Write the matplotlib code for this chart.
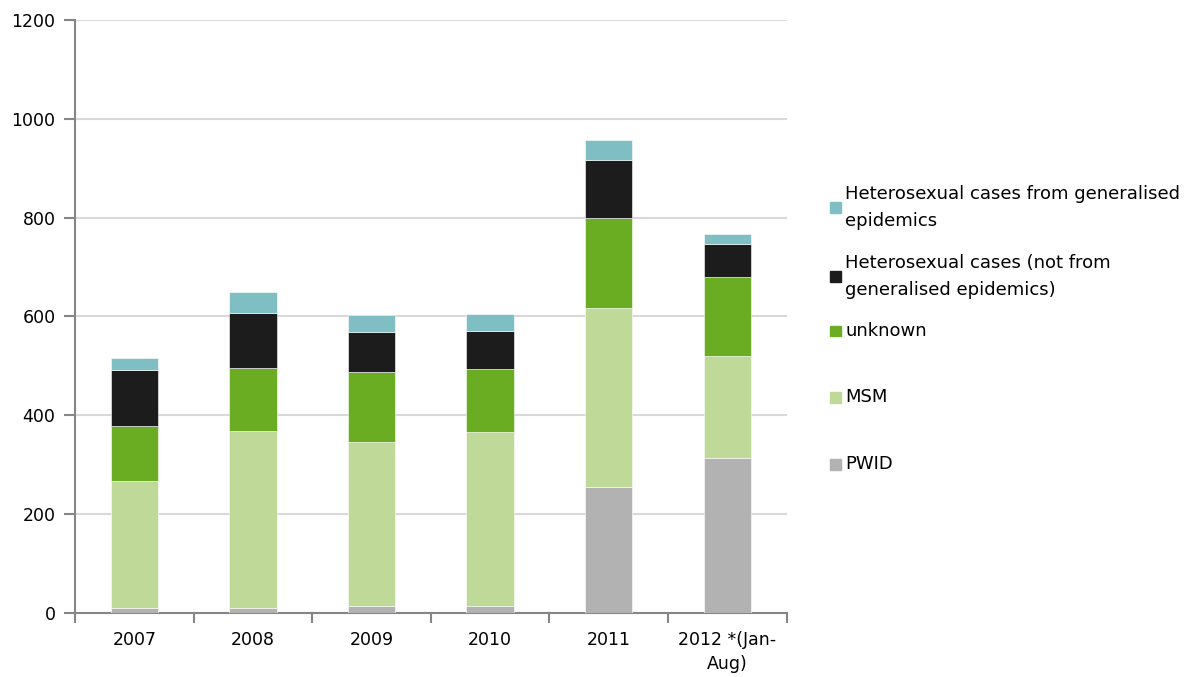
import matplotlib
matplotlib.use("Agg")
import matplotlib.pyplot as plt
from matplotlib.patches import Rectangle
import numpy as np

# values (cases per year, stacked)
years = ["2007", "2008", "2009", "2010", "2011", "2012 *(Jan-\nAug)"]
pwid = [10, 10, 14, 14, 255, 314]
msm = [257, 358, 332, 352, 363, 206]
unknown = [111, 128, 142, 128, 182, 160]
hetero = [114, 111, 81, 77, 117, 67]
hetero_gen = [24, 43, 34, 34, 40, 20]

series = [
    ("PWID", pwid, "#b2b2b2"),
    ("MSM", msm, "#bfd999"),
    ("unknown", unknown, "#6aad23"),
    ("Heterosexual cases (not from\ngeneralised epidemics)", hetero, "#1c1c1c"),
    ("Heterosexual cases from generalised\nepidemics", hetero_gen, "#7fbfc3"),
]

plt.rcParams['font.family'] = ['DejaVu Sans']
fig = plt.figure(figsize=(11.92, 6.77), dpi=100)
ax = fig.add_axes([0.0629, 0.0945, 0.597, 0.876])

ind = np.arange(len(years))
bottom = np.zeros(len(years))
for name, vals, col in series:
    ax.bar(ind, vals, 0.4, bottom=bottom, color=col, edgecolor="white",
           linewidth=0.4, zorder=3)
    bottom += np.array(vals)

ax.set_xlim(-0.5, len(years) - 0.5)
ax.set_ylim(0, 1200)
ax.set_yticks(np.arange(0, 1201, 200))
ax.yaxis.grid(True, color="#d9d9d9", linewidth=1.5, zorder=0)
ax.set_axisbelow(True)

# category labels at centres, tick marks on the boundaries
ax.set_xticks(ind)
ax.set_xticklabels(years, fontsize=12.5, linespacing=1.4)
ax.set_xticks(np.arange(-0.5, len(years)), minor=True)
ax.tick_params(axis="x", which="major", length=0, pad=13)
ax.tick_params(axis="x", which="minor", length=7, width=1.5, color="#868686")
ax.tick_params(axis="y", length=8, width=1.5, color="#868686", pad=6,
               labelsize=12.5)

for s in ["top", "right"]:
    ax.spines[s].set_visible(False)
for s in ["left", "bottom"]:
    ax.spines[s].set_color("#868686")
    ax.spines[s].set_linewidth(1.5)

# legend drawn by hand so the spacing matches the original
leg_y = [0.693, 0.592, 0.511, 0.413, 0.314]
for (name, vals, col), y in zip(series[::-1], leg_y):
    fig.patches.append(Rectangle((0.6965, y - 0.008), 0.0092, 0.016,
                                 transform=fig.transFigure, color=col))
    fig.text(0.709, y, name, fontsize=13, va="center", ha="left",
             linespacing=1.65)

fig.savefig("out.png", dpi=100)
